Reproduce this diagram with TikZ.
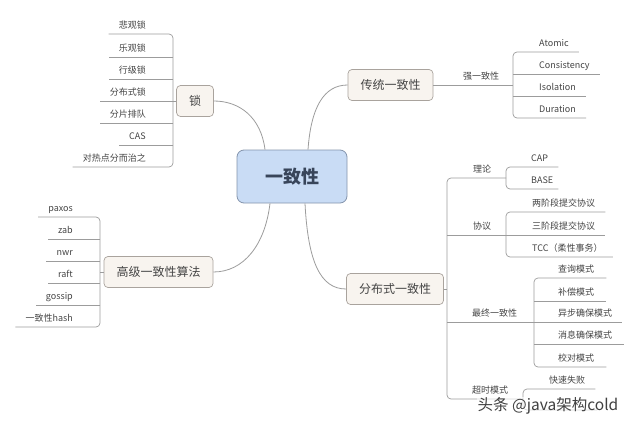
\documentclass[tikz,border=0pt]{standalone}
\usepackage{fontspec}
\setmainfont{Noto Sans CJK SC}
\definecolor{linecol}{HTML}{9C9C9C}
\definecolor{txt}{HTML}{444444}
\definecolor{topicfill}{HTML}{F8F4EF}
\definecolor{topicline}{HTML}{A9A39D}
\definecolor{rootfill}{HTML}{C9DCF5}
\definecolor{rootline}{HTML}{8494AC}
\definecolor{roottext}{HTML}{38455A}
\begin{document}
\begin{tikzpicture}[
  x=1pt, y=-1pt,
  root/.style={draw=rootline, fill=rootfill, rounded corners=7pt, line width=0.8pt,
               minimum width=110pt, minimum height=53pt,
               font=\fontsize{18}{20}\selectfont\bfseries, text=roottext},
  topic/.style={draw=topicline, fill=topicfill, rounded corners=4pt, line width=0.7pt,
                minimum height=31pt, inner xsep=12.5pt,
                font=\fontsize{12}{14}\selectfont, text=txt},
  leaf/.style={font=\fontsize{9}{10}\selectfont, text=txt, inner xsep=0pt,
               inner ysep=4pt, text depth=1.5pt},
  ln/.style={draw=linecol, line width=0.7pt},
  link/.style={draw=linecol, line width=0.8pt}
]
\fill[white] (0,0) rectangle (640,426);
\useasboundingbox (0,0) rectangle (640,426);

% Root
\node[root] (root) at (292,176.5) {一致性};

% Traditional consistency
\node[topic] (trad) at (390.5,85) {传统一致性};
\draw[link] ([xshift=16pt]root.north) .. controls +(3,-42) and +(-24,0) .. (trad.west);
\coordinate (bs) at (513,85);
\node[leaf, anchor=south west] (strong) at (463,85) {强一致性};
\draw[ln] (trad.east) -- (bs);
\node[leaf, anchor=south west] (atomic) at (539,52) {Atomic};
\node[leaf, anchor=south west] (consis) at (539,74) {Consistency};
\node[leaf, anchor=south west] (isol) at (539,96) {Isolation};
\node[leaf, anchor=south west] (durat) at (539,118) {Duration};
\draw[ln, rounded corners=4pt] ([xshift=10pt]atomic.south east) -- (bs |- atomic.south)
  -- (bs |- durat.south) -- ([xshift=10pt]durat.south east);
\draw[ln] (bs |- consis.south) -- ([xshift=10pt]consis.south east);
\draw[ln] (bs |- isol.south) -- ([xshift=10pt]isol.south east);

% Locks
\node[topic] (lock) at (195,101) {锁};
\draw[link] ([xshift=-27pt]root.north) .. controls +(-4,-32) and +(26,0) .. (lock.east);
\coordinate (bl) at (173,101);
\draw[ln] (lock.west) -- (bl);
\node[leaf, anchor=south east] (pess) at (146,34) {悲观锁};
\node[leaf, anchor=south east] (opt) at (146,57) {乐观锁};
\node[leaf, anchor=south east] (row) at (146,79) {行级锁};
\node[leaf, anchor=south east] (dlock) at (146,101) {分布式锁};
\node[leaf, anchor=south east] (shard) at (146,123) {分片排队};
\node[leaf, anchor=south east] (cas) at (146,145) {CAS};
\node[leaf, anchor=south east] (hot) at (146,167) {对热点分而治之};
\draw[ln, rounded corners=4pt] ([xshift=-10pt]pess.south west) -- (bl |- pess.south)
  -- (bl |- hot.south) -- ([xshift=-10pt]hot.south west);
\draw[ln] (bl |- opt.south) -- ([xshift=-10pt]opt.south west);
\draw[ln] (bl |- row.south) -- ([xshift=-10pt]row.south west);
\draw[ln] (bl |- dlock.south) -- ([xshift=-10pt]dlock.south west);
\draw[ln] (bl |- shard.south) -- ([xshift=-10pt]shard.south west);
\draw[ln] (bl |- cas.south) -- ([xshift=-10pt]cas.south west);

% Algorithms
\node[topic] (algo) at (158.5,272) {高级一致性算法};
\draw[link] ([xshift=-22pt]root.south) .. controls +(-5,42) and +(30,0) .. (algo.east);
\coordinate (ba) at (100,272);
\draw[ln] (algo.west) -- (ba);
\node[leaf, anchor=south east] (paxos) at (73,217) {paxos};
\node[leaf, anchor=south east] (zab) at (73,239) {zab};
\node[leaf, anchor=south east] (nwr) at (73,261) {nwr};
\node[leaf, anchor=south east] (raft) at (73,283) {raft};
\node[leaf, anchor=south east] (gossip) at (73,305) {gossip};
\node[leaf, anchor=south east] (hash) at (73,327) {一致性hash};
\draw[ln, rounded corners=4pt] ([xshift=-10pt]paxos.south west) -- (ba |- paxos.south)
  -- (ba |- hash.south) -- ([xshift=-10pt]hash.south west);
\draw[ln] (ba |- zab.south) -- ([xshift=-10pt]zab.south west);
\draw[ln] (ba |- nwr.south) -- ([xshift=-10pt]nwr.south west);
\draw[ln] (ba |- raft.south) -- ([xshift=-10pt]raft.south west);
\draw[ln] (ba |- gossip.south) -- ([xshift=-10pt]gossip.south west);

% Distributed consistency
\node[topic] (dist) at (395,289) {分布式一致性};
\draw[link] ([xshift=13pt]root.south) .. controls +(3,58) and +(-26,0) .. (dist.west);
\coordinate (bd) at (447,289);
\draw[ln] (dist.east) -- (bd);
\node[leaf, anchor=south west] (theory) at (473,178) {理论};
\node[leaf, anchor=south west] (proto) at (473,235) {协议};
\node[leaf, anchor=south west] (event) at (472,322) {最终一致性};
\node[leaf, anchor=south west] (tout) at (472,399) {超时模式};
\coordinate (bt) at (506,178);
\coordinate (bp) at (506,235);
\coordinate (be) at (534,322);
\coordinate (bo) at (523,399);
\draw[ln, rounded corners=4pt] (bt) -- (bd |- theory.south) -- (bd |- tout.south) -- (bo);
\draw[ln] (bd |- proto.south) -- (bp);
\draw[ln] (bd |- event.south) -- (be);

% Theory
\node[leaf, anchor=south west] (cap) at (531,167) {CAP};
\node[leaf, anchor=south west] (base) at (531,189) {BASE};
\draw[ln, rounded corners=4pt] ([xshift=10pt]cap.south east) -- (bt |- cap.south)
  -- (bt |- base.south) -- ([xshift=5pt]base.south east);

% Protocols
\node[leaf, anchor=south west] (two) at (532,212) {两阶段提交协议};
\node[leaf, anchor=south west] (three) at (532,235) {三阶段提交协议};
\node[leaf, anchor=south west] (tcc) at (532,257) {TCC（柔性事务）};
\draw[ln, rounded corners=4pt] ([xshift=10pt]two.south east) -- (bp |- two.south)
  -- (bp |- tcc.south) -- ([xshift=10pt]tcc.south east);
\draw[ln] (bp |- three.south) -- ([xshift=10pt]three.south east);

% Eventual consistency
\node[leaf, anchor=south west] (query) at (558,278) {查询模式};
\node[leaf, anchor=south west] (comp) at (558,301) {补偿模式};
\node[leaf, anchor=south west] (async) at (558,322) {异步确保模式};
\node[leaf, anchor=south west] (msg) at (558,344) {消息确保模式};
\node[leaf, anchor=south west] (check) at (558,367) {校对模式};
\draw[ln, rounded corners=4pt] ([xshift=12pt]query.south east) -- (be |- query.south)
  -- (be |- check.south) -- ([xshift=12pt]check.south east);
\draw[ln] (be |- comp.south) -- ([xshift=12pt]comp.south east);
\draw[ln] (be |- async.south) -- ([xshift=10pt]async.south east);
\draw[ln] (be |- msg.south) -- ([xshift=12pt]msg.south east);

% Timeout
\node[leaf, anchor=south west] (fast) at (549,389) {快速失败};
\coordinate (hid) at (597,410);
\draw[ln, rounded corners=4pt] ([xshift=10pt]fast.south east) -- (bo |- fast.south)
  -- (bo |- hid) -- (hid);

% Watermark
\node[font=\fontsize{15.5}{17}\selectfont, text=black!75, fill=white, fill opacity=0.6,
      text opacity=1, inner sep=1pt] (mark) at (548,406) {头条 @java架构cold};
\end{tikzpicture}
\end{document}
